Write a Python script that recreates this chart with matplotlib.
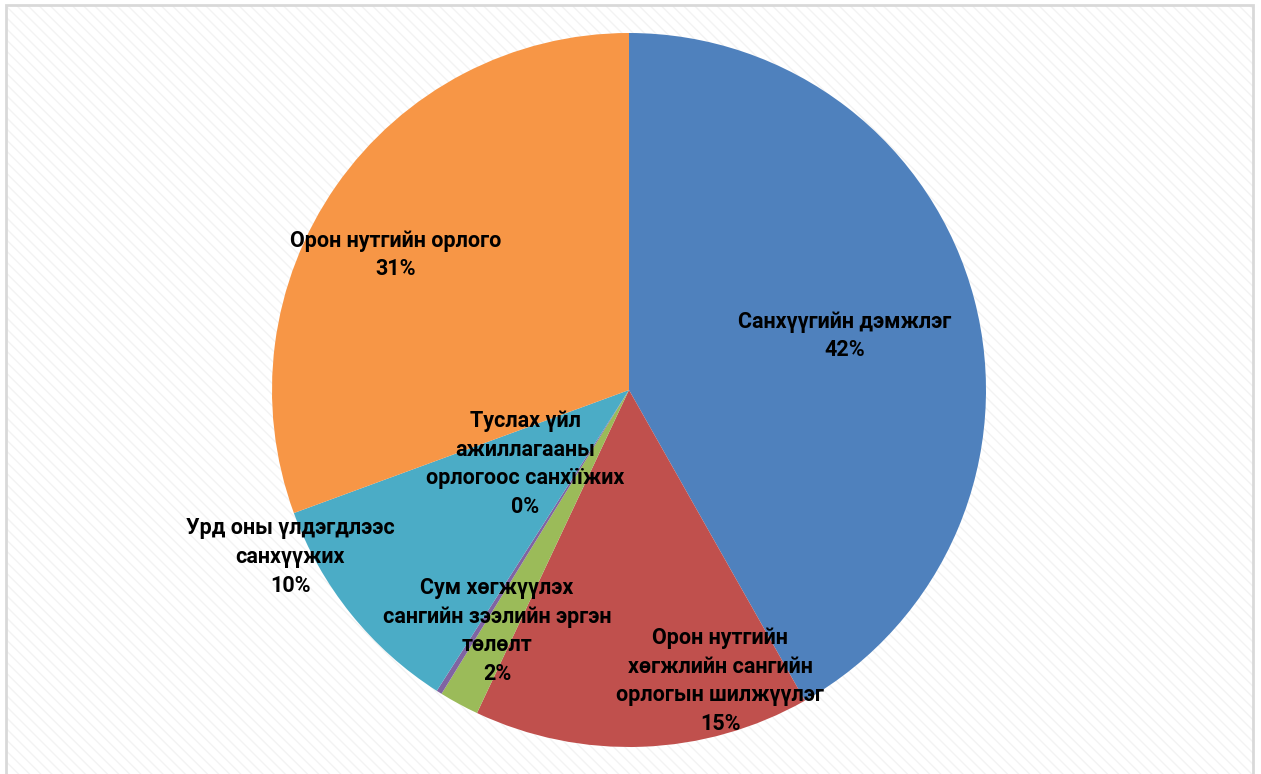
import matplotlib
matplotlib.use("Agg")
import matplotlib.pyplot as plt
from matplotlib.patches import Rectangle

plt.rcParams['font.family'] = ['Roboto', 'DejaVu Sans']

categories = [
    "Санхүүгийн дэмжлэг",
    "Орон нутгийн\nхөгжлийн сангийн\nорлогын шилжүүлэг",
    "Сум хөгжүүлэх\nсангийн зээлийн эргэн\nтөлөлт",
    "Туслах үйл\nажиллагааны\nорлогоос санхїїжих",
    "Урд оны үлдэгдлээс\nсанхүүжих",
    "Орон нутгийн орлого",
]
shares = [41.8, 15.2, 1.8, 0.25, 10.35, 30.6]
colors = ['#4F81BD', '#C0504D', '#9BBB59', '#8064A2', '#4BACC6', '#F79646']

# label centres in pixel coords (x, y from top)
label_xy = [(845, 336), (720, 681), (497, 631), (525, 464), (290, 557), (396, 255)]

W, H = 1261, 774
fig = plt.figure(figsize=(W / 100, H / 100), dpi=100)
ax = fig.add_axes([0, 0, 1, 1])

# faint striped background + light border like the Excel chart area
bg = Rectangle((6, -10), 1247, H - 5 + 10, facecolor='white', edgecolor='#F3F3F3',
               hatch='\\\\\\', linewidth=0, zorder=0)
ax.add_patch(bg)
ax.add_patch(Rectangle((6, -10), 1247, H - 5 + 10, facecolor='none', edgecolor='#D9D9D9',
                       linewidth=2, zorder=1))

ax.pie(shares, colors=colors, startangle=90, counterclock=False,
       center=(629, H - 390), radius=357, frame=True,
       wedgeprops=dict(linewidth=0, zorder=2))

for name, val, (x, y) in zip(categories, shares, label_xy):
    ax.text(x, H - y, "%s\n%.0f%%" % (name, val), ha='center', va='center',
            fontsize=15.5, fontweight='bold', color='black', linespacing=1.4, zorder=5)

ax.set_xlim(0, W)
ax.set_ylim(0, H)
ax.set_aspect('equal')
ax.axis('off')

fig.savefig("out.png", dpi=100, facecolor='white')
